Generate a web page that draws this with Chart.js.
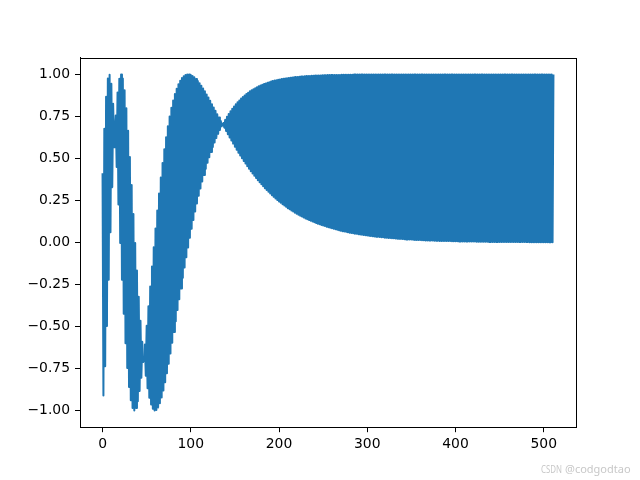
<!DOCTYPE html>
<html>
<head>
<meta charset="utf-8">
<script src="https://cdn.jsdelivr.net/npm/chart.js@4.4.0/dist/chart.umd.min.js"></script>
<style>
  html, body { margin: 0; padding: 0; background: #fff; }
  canvas { display: block; }
</style>
</head>
<body>
<canvas id="chart" width="640" height="480"></canvas>
<script>
// values at even dimensions (0, 2, 4, ...)
const sinValues = [
  0.412, 0.676, 0.867, 0.975, 0.998, 0.944, 0.825, 0.654, 0.449, 0.225,
  -0.003, -0.223, -0.425, -0.601, -0.748, -0.861, -0.940, -0.986, -1.000, -0.986,
  -0.946, -0.885, -0.806, -0.712, -0.608, -0.496, -0.380, -0.262, -0.144, -0.029,
  0.083, 0.190, 0.291, 0.386, 0.473, 0.554, 0.626, 0.692, 0.750, 0.801,
  0.845, 0.883, 0.915, 0.941, 0.962, 0.978, 0.989, 0.996, 1.000, 1.000,
  0.997, 0.991, 0.983, 0.973, 0.961, 0.947, 0.932, 0.916, 0.899, 0.881,
  0.862, 0.843, 0.823, 0.803, 0.783, 0.763, 0.743, 0.723, 0.703, 0.683,
  0.663, 0.644, 0.625, 0.606, 0.588, 0.569, 0.552, 0.534, 0.517, 0.501,
  0.485, 0.469, 0.454, 0.439, 0.424, 0.410, 0.397, 0.383, 0.370, 0.358,
  0.346, 0.334, 0.323, 0.312, 0.301, 0.291, 0.281, 0.271, 0.262, 0.253,
  0.244, 0.236, 0.227, 0.219, 0.212, 0.204, 0.197, 0.190, 0.184, 0.177,
  0.171, 0.165, 0.159, 0.154, 0.148, 0.143, 0.138, 0.133, 0.129, 0.124,
  0.120, 0.116, 0.111, 0.108, 0.104, 0.100, 0.097, 0.093, 0.090, 0.087,
  0.084, 0.081, 0.078, 0.075, 0.073, 0.070, 0.067, 0.065, 0.063, 0.061,
  0.058, 0.056, 0.054, 0.052, 0.051, 0.049, 0.047, 0.045, 0.044, 0.042,
  0.041, 0.039, 0.038, 0.037, 0.035, 0.034, 0.033, 0.032, 0.031, 0.030,
  0.028, 0.027, 0.026, 0.026, 0.025, 0.024, 0.023, 0.022, 0.021, 0.021,
  0.020, 0.019, 0.018, 0.018, 0.017, 0.017, 0.016, 0.015, 0.015, 0.014,
  0.014, 0.013, 0.013, 0.012, 0.012, 0.012, 0.011, 0.011, 0.010, 0.010,
  0.010, 0.009, 0.009, 0.009, 0.008, 0.008, 0.008, 0.008, 0.007, 0.007,
  0.007, 0.007, 0.006, 0.006, 0.006, 0.006, 0.005, 0.005, 0.005, 0.005,
  0.005, 0.005, 0.004, 0.004, 0.004, 0.004, 0.004, 0.004, 0.004, 0.003,
  0.003, 0.003, 0.003, 0.003, 0.003, 0.003, 0.003, 0.003, 0.002, 0.002,
  0.002, 0.002, 0.002, 0.002, 0.002, 0.002, 0.002, 0.002, 0.002, 0.002,
  0.002, 0.002, 0.001, 0.001, 0.001, 0.001, 0.001, 0.001, 0.001, 0.001,
  0.001, 0.001, 0.001, 0.001, 0.001, 0.001
];

// values at odd dimensions (1, 3, 5, ...)
const cosValues = [
  -0.911, -0.737, -0.498, -0.223, 0.060, 0.329, 0.566, 0.756, 0.893, 0.974,
  1.000, 0.975, 0.905, 0.799, 0.664, 0.509, 0.342, 0.169, -0.003, -0.168,
  -0.324, -0.466, -0.592, -0.702, -0.794, -0.868, -0.925, -0.965, -0.990, -1.000,
  -0.997, -0.982, -0.957, -0.923, -0.881, -0.833, -0.779, -0.722, -0.661, -0.598,
  -0.534, -0.469, -0.403, -0.338, -0.274, -0.210, -0.149, -0.088, -0.030, 0.027,
  0.081, 0.134, 0.184, 0.232, 0.277, 0.321, 0.362, 0.401, 0.439, 0.474,
  0.507, 0.538, 0.568, 0.595, 0.622, 0.646, 0.669, 0.691, 0.711, 0.730,
  0.748, 0.765, 0.781, 0.795, 0.809, 0.822, 0.834, 0.845, 0.856, 0.866,
  0.875, 0.883, 0.891, 0.899, 0.905, 0.912, 0.918, 0.924, 0.929, 0.934,
  0.938, 0.943, 0.946, 0.950, 0.954, 0.957, 0.960, 0.963, 0.965, 0.968,
  0.970, 0.972, 0.974, 0.976, 0.977, 0.979, 0.980, 0.982, 0.983, 0.984,
  0.985, 0.986, 0.987, 0.988, 0.989, 0.990, 0.990, 0.991, 0.992, 0.992,
  0.993, 0.993, 0.994, 0.994, 0.995, 0.995, 0.995, 0.996, 0.996, 0.996,
  0.996, 0.997, 0.997, 0.997, 0.997, 0.998, 0.998, 0.998, 0.998, 0.998,
  0.998, 0.998, 0.999, 0.999, 0.999, 0.999, 0.999, 0.999, 0.999, 0.999,
  0.999, 0.999, 0.999, 0.999, 0.999, 0.999, 0.999, 1.000, 1.000, 1.000,
  1.000, 1.000, 1.000, 1.000, 1.000, 1.000, 1.000, 1.000, 1.000, 1.000,
  1.000, 1.000, 1.000, 1.000, 1.000, 1.000, 1.000, 1.000, 1.000, 1.000,
  1.000, 1.000, 1.000, 1.000, 1.000, 1.000, 1.000, 1.000, 1.000, 1.000,
  1.000, 1.000, 1.000, 1.000, 1.000, 1.000, 1.000, 1.000, 1.000, 1.000,
  1.000, 1.000, 1.000, 1.000, 1.000, 1.000, 1.000, 1.000, 1.000, 1.000,
  1.000, 1.000, 1.000, 1.000, 1.000, 1.000, 1.000, 1.000, 1.000, 1.000,
  1.000, 1.000, 1.000, 1.000, 1.000, 1.000, 1.000, 1.000, 1.000, 1.000,
  1.000, 1.000, 1.000, 1.000, 1.000, 1.000, 1.000, 1.000, 1.000, 1.000,
  1.000, 1.000, 1.000, 1.000, 1.000, 1.000, 1.000, 1.000, 1.000, 1.000,
  1.000, 1.000, 1.000, 1.000, 1.000, 1.000
];

const xTicks = [0, 100, 200, 300, 400, 500];
const yTicks = [-1.00, -0.75, -0.50, -0.25, 0.00, 0.25, 0.50, 0.75, 1.00];
const watermarkSite = "CSDN";
const watermarkUser = "@codgodtao";

// interleave even / odd dimensions into one line
const points = [];
sinValues.forEach((s, i) => {
  points.push({ x: 2 * i, y: s });
  points.push({ x: 2 * i + 1, y: cosValues[i] });
});

const xMax = points.length - 1;
const font = { family: "'DejaVu Sans', sans-serif", size: 13.9 };

// ── frame + watermark ────────────────────────────────────────
const framePlugin = {
  id: "frame",
  afterDraw(chart) {
    const { ctx, chartArea: a } = chart;
    ctx.save();
    ctx.strokeStyle = "#000";
    ctx.lineWidth = 1;
    const l = Math.round(a.left) + 0.5, t = Math.round(a.top) + 0.5;
    const r = Math.round(a.right) + 0.5, b = Math.round(a.bottom) + 0.5;
    ctx.strokeRect(l, t, r - l, b - t);
    ctx.fillStyle = "#c8c8c8";
    ctx.font = "11px 'Noto Sans', sans-serif";
    ctx.textBaseline = "alphabetic";
    ctx.fillText(watermarkSite, 541, 473, 21);
    ctx.fillText(watermarkUser, 565, 473, 66);
    ctx.restore();
  },
};

const fmt = (v) => {
  const s = Math.abs(v).toFixed(2);
  return v < 0 ? "\u2212" + s : s;
};

new Chart(document.getElementById("chart"), {
  type: "line",
  data: {
    datasets: [{
      data: points,
      borderColor: "#1f77b4",
      borderWidth: 2,
      borderJoinStyle: "round",
      pointRadius: 0,
      tension: 0,
      fill: false,
    }],
  },
  options: {
    responsive: false,
    animation: false,
    devicePixelRatio: 1,
    layout: { padding: { left: 0, right: 64, top: 57.6, bottom: 0 } },
    plugins: { legend: { display: false }, tooltip: { enabled: false } },
    scales: {
      x: {
        type: "linear",
        min: -0.05 * xMax,
        max: xMax * 1.05,
        afterBuildTicks: (s) => { s.ticks = xTicks.map((v) => ({ value: v })); },
        afterFit: (s) => { s.height = 52.8; },
        ticks: { color: "#000", font, padding: 4, maxRotation: 0, callback: (v) => String(v) },
        grid: { drawOnChartArea: false, drawTicks: true, tickLength: 5, tickColor: "#000", tickWidth: 1 },
        border: { display: true, color: "#000", width: 1 },
      },
      y: {
        type: "linear",
        min: -1.1,
        max: 1.1,
        afterBuildTicks: (s) => { s.ticks = yTicks.map((v) => ({ value: v })); },
        afterFit: (s) => { s.width = 80; },
        ticks: { color: "#000", font, padding: 5, callback: (v) => fmt(v) },
        grid: { drawOnChartArea: false, drawTicks: true, tickLength: 5, tickColor: "#000", tickWidth: 1 },
        border: { display: true, color: "#000", width: 1 },
      },
    },
  },
  plugins: [framePlugin],
});
</script>
</body>
</html>
